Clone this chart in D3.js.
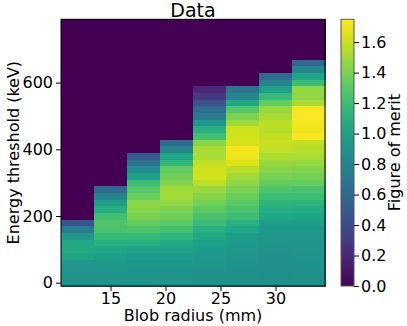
<!DOCTYPE html>
<html>
<head>
<meta charset="utf-8">
<script src="https://cdn.jsdelivr.net/npm/d3@7"></script>
<style>
  body { margin: 0; background: white; }
  text { font-family: "DejaVu Sans", sans-serif; fill: black; }
</style>
</head>
<body>
<div id="chart"></div>
<script>
// blob radii (mm), one column each
var radii = [12, 15, 18, 21, 24, 27, 30, 33];
// energy thresholds (keV), one row each
var thresholds = [0, 20, 40, 60, 80, 100, 120, 140, 160, 180, 200, 220, 240, 260, 280, 300,
    320, 340, 360, 380, 400, 420, 440, 460, 480, 500, 520, 540, 560, 580, 600, 620,
    640, 660, 680, 700, 720, 740, 760, 780];
// figure of merit per column, from 0 keV upwards (rows above are 0)
var fom_r12 = [0.88, 0.90, 0.91, 0.95, 1.02, 1.07, 1.05, 0.93, 0.73, 0.47];
var fom_r15 = [0.89, 0.90, 0.92, 0.95, 0.98, 1.03, 1.10, 1.18, 1.25, 1.27, 1.22, 1.09, 0.98, 0.79, 0.60];
var fom_r18 = [0.89, 0.90, 0.91, 0.93, 0.96, 1.00, 1.10, 1.17, 1.26, 1.33, 1.39, 1.44, 1.45, 1.35, 1.28,
    1.20, 0.98, 0.84, 0.66, 0.49];
var fom_r21 = [0.89, 0.90, 0.92, 0.93, 0.96, 1.00, 1.06, 1.14, 1.22, 1.30, 1.36, 1.40, 1.46, 1.51, 1.50,
    1.42, 1.37, 1.33, 1.15, 1.04, 0.79, 0.60];
var fom_r24 = [0.88, 0.89, 0.90, 0.92, 0.93, 0.96, 0.99, 1.05, 1.10, 1.19, 1.25, 1.31, 1.38, 1.43, 1.48,
    1.57, 1.63, 1.62, 1.58, 1.53, 1.52, 1.44, 1.22, 1.10, 0.93, 0.72, 0.60, 0.44, 0.28, 0.20];
var fom_r27 = [0.88, 0.88, 0.89, 0.90, 0.91, 0.93, 0.95, 0.97, 1.05, 1.12, 1.20, 1.25, 1.30, 1.35, 1.40,
    1.45, 1.50, 1.57, 1.66, 1.70, 1.72, 1.64, 1.63, 1.62, 1.50, 1.40, 1.28, 1.05, 0.79, 0.68];
var fom_r30 = [0.87, 0.87, 0.88, 0.88, 0.89, 0.90, 0.91, 0.93, 0.95, 0.98, 1.04, 1.09, 1.14, 1.20, 1.27,
    1.33, 1.39, 1.44, 1.48, 1.53, 1.58, 1.60, 1.58, 1.56, 1.57, 1.52, 1.48, 1.33, 1.18, 1.00, 0.78, 0.60];
var fom_r33 = [0.87, 0.88, 0.88, 0.89, 0.90, 0.91, 0.92, 0.93, 0.95, 0.98, 1.02, 1.07, 1.13, 1.20, 1.25,
    1.33, 1.38, 1.42, 1.47, 1.53, 1.56, 1.58, 1.73, 1.71, 1.72, 1.75, 1.73, 1.52, 1.46, 1.46, 1.20, 1.03,
    0.80, 0.58];
var fom = [fom_r12, fom_r15, fom_r18, fom_r21, fom_r24, fom_r27, fom_r30, fom_r33];

var xTicks = [15, 20, 25, 30];
var yTicks = [0, 200, 400, 600];
var cTicks = [0.0, 0.2, 0.4, 0.6, 0.8, 1.0, 1.2, 1.4, 1.6];

var W = 407, H = 326;
var plot = { left: 61, right: 325, top: 19.3, bottom: 286 };
var cbar = { left: 341, right: 354 };

var cells = [];
radii.forEach(function(r, i) {
    thresholds.forEach(function(e, j) {
        var v = j < fom[i].length ? fom[i][j] : 0;
        cells.push({ r: r, e: e, v: v });
    });
});

var vmax = d3.max(cells, function(d) { return d.v; });

var x = d3.scaleLinear().domain([10.5, 34.5]).range([plot.left, plot.right]);
var y = d3.scaleLinear().domain([-10, 790]).range([plot.bottom, plot.top]);
var color = d3.scaleSequential(d3.interpolateViridis).domain([0, vmax]);
var cy = d3.scaleLinear().domain([0, vmax]).range([plot.bottom, plot.top]);

var svg = d3.select("#chart")
    .append("svg")
    .attr("width", W)
    .attr("height", H);

svg.append("rect")
    .attr("width", W)
    .attr("height", H)
    .attr("fill", "white");

svg.append("g")
    .attr("shape-rendering", "crispEdges")
    .selectAll("rect")
    .data(cells)
    .enter()
    .append("rect")
    .attr("x", function(d) { return x(d.r - 1.5); })
    .attr("width", function(d) { return x(d.r + 1.5) - x(d.r - 1.5) + 0.5; })
    .attr("y", function(d) { return y(d.e + 10); })
    .attr("height", function(d) { return y(d.e - 10) - y(d.e + 10) + 0.5; })
    .attr("fill", function(d) { return color(d.v); });

var xAxis = svg.append("g")
    .attr("transform", "translate(0," + plot.bottom + ")")
    .call(d3.axisBottom(x).tickValues(xTicks).tickSize(5).tickPadding(1.5).tickFormat(d3.format("d")));

var yAxis = svg.append("g")
    .attr("transform", "translate(" + plot.left + ",0)")
    .call(d3.axisLeft(y).tickValues(yTicks).tickSize(5).tickPadding(3).tickFormat(d3.format("d")));

[xAxis, yAxis].forEach(function(a) {
    a.select(".domain").remove();
    a.selectAll("text").attr("font-size", 16).attr("font-family", "DejaVu Sans");
    a.selectAll("line").attr("stroke", "black");
});

svg.append("rect")
    .attr("x", plot.left)
    .attr("y", plot.top)
    .attr("width", plot.right - plot.left)
    .attr("height", plot.bottom - plot.top)
    .attr("fill", "none")
    .attr("stroke", "black")
    .attr("stroke-width", 1);

// colorbar
var grad = svg.append("defs").append("linearGradient")
    .attr("id", "cb")
    .attr("x1", 0).attr("y1", 1).attr("x2", 0).attr("y2", 0);
grad.selectAll("stop")
    .data(d3.range(0, 1.0001, 0.02))
    .enter()
    .append("stop")
    .attr("offset", function(t) { return t; })
    .attr("stop-color", function(t) { return d3.interpolateViridis(t); });

svg.append("rect")
    .attr("x", cbar.left)
    .attr("y", plot.top)
    .attr("width", cbar.right - cbar.left)
    .attr("height", plot.bottom - plot.top)
    .attr("fill", "url(#cb)")
    .attr("stroke", "#555")
    .attr("stroke-width", 1);

var cAxis = svg.append("g")
    .attr("transform", "translate(" + cbar.right + ",0)")
    .call(d3.axisRight(cy).tickValues(cTicks).tickSize(5).tickPadding(2).tickFormat(d3.format(".1f")));
cAxis.select(".domain").remove();
cAxis.selectAll("text").attr("font-size", 16).attr("font-family", "DejaVu Sans");
cAxis.selectAll("line").attr("stroke", "black");

svg.append("text")
    .attr("x", (plot.left + plot.right) / 2)
    .attr("y", 16.5)
    .attr("text-anchor", "middle")
    .attr("font-size", 19)
    .text("Data");

svg.append("text")
    .attr("x", (plot.left + plot.right) / 2)
    .attr("y", 321)
    .attr("text-anchor", "middle")
    .attr("font-size", 16)
    .text("Blob radius (mm)");

svg.append("text")
    .attr("transform", "translate(19," + (plot.top + plot.bottom) / 2 + ") rotate(-90)")
    .attr("text-anchor", "middle")
    .attr("font-size", 16)
    .text("Energy threshold (keV)");

svg.append("text")
    .attr("transform", "translate(400," + (plot.top + plot.bottom) / 2 + ") rotate(-90)")
    .attr("text-anchor", "middle")
    .attr("font-size", 16)
    .text("Figure of merit");
</script>
</body>
</html>
